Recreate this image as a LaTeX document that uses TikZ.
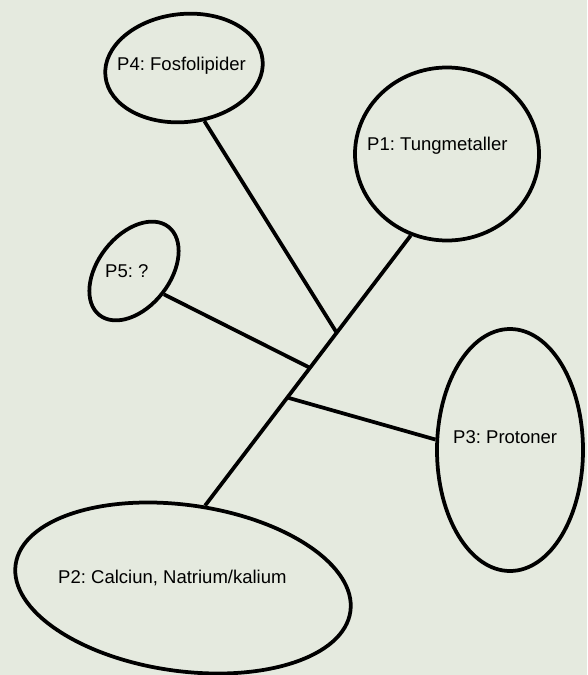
\documentclass[tikz,border=0pt]{standalone}
\usepackage{fontspec}
\setmainfont{Liberation Sans}
\usepackage{tikz}
\usetikzlibrary{shapes.geometric, calc}
\definecolor{paperbg}{RGB}{229,234,223}
\frenchspacing

\begin{document}
\begin{tikzpicture}[x=0.03cm, y=-0.03cm,
  blob/.style={ellipse, draw, line width=3.2pt, inner sep=0pt},
  blobtext/.style={anchor=base west, inner sep=0pt, font=\fontsize{15.8}{19}\selectfont},
  link/.style={line width=3.2pt}]

 %%Paramaters
%% one pixel of the picture
\def\px{0.03cm}
\fill[paperbg] (0,0) rectangle (587,675);
\useasboundingbox (0,0) rectangle (587,675);

 %% ***Ellipses***
\node[blob, minimum width=184*\px, minimum height=173*\px] at (447, 154) (p1) {};
\node[blob, minimum width=338*\px, minimum height=166*\px, rotate=-8] at (183, 588) (p2) {};
\node[blob, minimum width=146*\px, minimum height=242*\px] at (510, 450) (p3) {};
\node[blob, minimum width=158*\px, minimum height=108*\px, rotate=6] at (184, 68) (p4) {};
\node[blob, minimum width=72*\px, minimum height=112*\px, rotate=-38] at (134, 271) (p5) {};

 %% ***Texts***
\node[blobtext] at ($(p1) + (-80, -4)$) (p1txt) {P1: Tungmetaller};
\node[blobtext] at ($(p2) + (-125, -5)$) (p2txt) {P2: Calciun, Natrium/kalium};
\node[blobtext] at ($(p3) + (-57, -7)$) (p3txt) {P3: Protoner};
\node[blobtext] at ($(p4) + (-67, 3)$) (p4txt) {P4: Fosfolipider};
\node[blobtext] at ($(p5) + (-29, 6)$) (p5txt) {P5: ?};

 %% ***Main stem P1 -- P2***
\draw[link] (p1.246) -- (p2.83);
\coordinate (j4) at ($(p1.246)!0.36!(p2.83)$);
\coordinate (j5) at ($(p1.246)!0.49!(p2.83)$);
\coordinate (j3) at ($(p1.246)!0.60!(p2.83)$);

 %% ***Branches***
% P4
\draw[link] (p4.285) -- (j4);
% P5
\draw[link] (p5.0) -- (j5);
% P3
\draw[link] (j3) -- (p3.172);

\end{tikzpicture}
\end{document}
